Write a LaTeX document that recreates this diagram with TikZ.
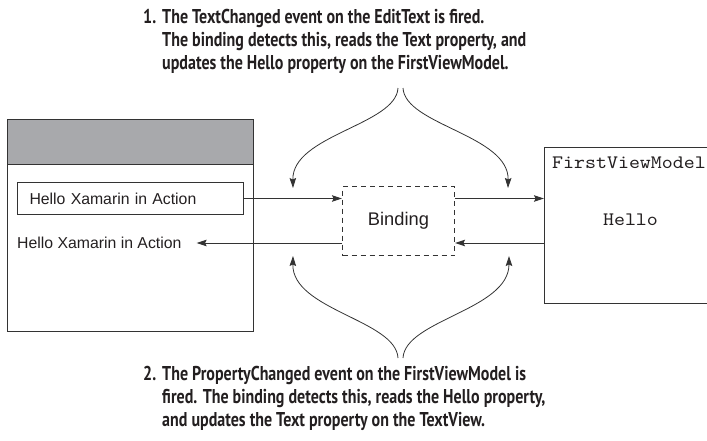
\documentclass[tikz,border=0pt]{standalone}
\usepackage{fontspec}
\setmainfont{Liberation Sans}
\newfontfamily\codefont{lmmono10-regular}[Extension=.otf,FakeStretch=1.1]
\newfontfamily\notefont{PT Sans}[FakeStretch=0.8]
\usetikzlibrary{arrows.meta}
\definecolor{barfill}{RGB}{168,169,172}
\definecolor{inkline}{RGB}{51,51,51}
\definecolor{inktext}{RGB}{35,31,32}
\begin{document}
\begin{tikzpicture}[x=1pt,y=-1pt,
  frame/.style={draw=inkline,line width=1pt,inner sep=0pt,anchor=north west},
  uitext/.style={text=inktext,inner sep=0pt,font=\fontsize{15.8}{18}\selectfont},
  codetext/.style={text=inktext,inner sep=0pt,font=\codefont\fontsize{19}{22}\selectfont},
  note/.style={text=inktext,inner sep=0pt,anchor=north west,
    font=\notefont\bfseries\fontsize{20}{23}\selectfont},
  flow/.style={draw=inkline,line width=1pt,-{Stealth[length=10pt,width=6.5pt,inset=1.5pt]}},
  cueline/.style={draw=inkline,line width=0.8pt,-{Stealth[length=10pt,width=6.5pt,inset=1.5pt]}}]
\useasboundingbox (0,0) rectangle (707,440);
% the phone screen
\node[frame,line width=1.3pt,minimum width=246pt,minimum height=212pt] (phone) at (7,119) {};
\node[frame,line width=1.3pt,fill=barfill,minimum width=246pt,minimum height=45pt] (phonebar) at (phone.north west) {};
\node[frame,uitext,inner sep=0pt,inner xsep=12pt,minimum height=32pt,text width=202pt,align=left] (edittext) at (17,182) {Hello Xamarin in Action};
\node[uitext,anchor=west] (textview) at (17,243) {Hello Xamarin in Action};
% binding and view model
\node[frame,dash pattern=on 5pt off 4pt,minimum width=112pt,minimum height=69pt,
  font=\fontsize{18.3}{22}\selectfont,text=inktext] (binding) at (342,186) {Binding};
\node[frame,minimum width=180pt,minimum height=156pt] (vm) at (544,147) {};
\node[codetext,anchor=base west] (vmname) at (552,168) {FirstViewModel};
\node[codetext] (vmhello) at (630.5,220) {Hello};
% arrows between them
\draw[flow] (edittext.east) -- (edittext.east -| binding.west);
\draw[flow] (binding.east |- edittext.east) -- (edittext.east -| vm.west);
\draw[flow] (vm.west |- textview.east) -- (textview.east -| binding.east);
\draw[flow] (binding.west |- textview.east) -- ([xshift=15pt]textview.east);
% notes
\node[note] (note1) at (143,7) {\begin{tabular}{@{}l@{\hspace{6pt}}l@{}}
  1. & The TextChanged event on the EditText is fired.\\
     & The binding detects this, reads the Text property, and\\
     & updates the Hello property on the FirstViewModel.
  \end{tabular}};
\node[note] (note2) at (143,364) {\begin{tabular}{@{}l@{\hspace{6pt}}l@{}}
  2. & The PropertyChanged event on the FirstViewModel is\\
     & fired. The binding detects this, reads the Hello property,\\
     & and updates the Text property on the TextView.
  \end{tabular}};
\coordinate (n1a) at (398,88);
\coordinate (n1b) at (403,88);
\coordinate (n2a) at (398,358);
\coordinate (n2b) at (403,358);
\coordinate (toin) at (293,188);
\coordinate (toout) at (508,188);
\coordinate (backin) at (509,256);
\coordinate (backout) at (293,256);
\draw[cueline] (n1a) .. controls (396,125) and (292,135) .. (toin);
\draw[cueline] (n1b) .. controls (405,125) and (509,135) .. (toout);
\draw[cueline] (n2a) .. controls (396,320) and (292,310) .. (backout);
\draw[cueline] (n2b) .. controls (405,320) and (509,310) .. (backin);
\end{tikzpicture}
\end{document}
